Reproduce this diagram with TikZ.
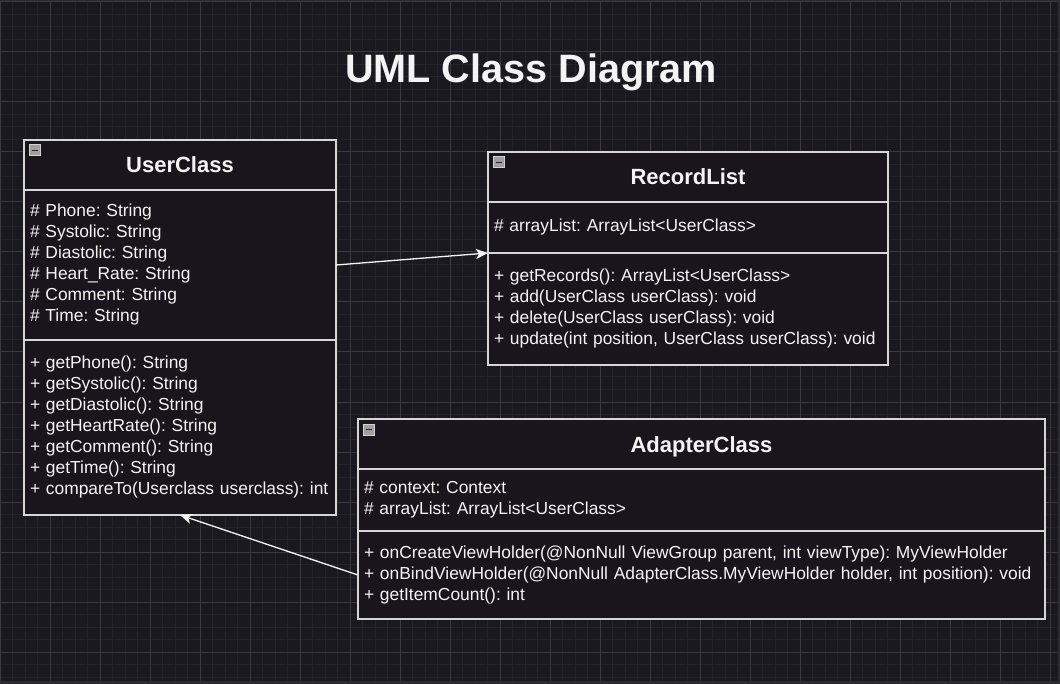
\documentclass[tikz,border=0pt]{standalone}
\usepackage{fontspec}
\setmainfont{Liberation Sans}
\usetikzlibrary{positioning, arrows.meta}
\definecolor{bgdark}{HTML}{1A1920}
\definecolor{bgedge}{HTML}{2B2A31}
\definecolor{gridminor}{HTML}{25232A}
\definecolor{gridmajor}{HTML}{3B393F}
\definecolor{boxfill}{HTML}{18151D}
\definecolor{boxline}{HTML}{D6D6D6}
\definecolor{inktext}{HTML}{F4F4F4}
\tikzset{
x=1pt, y=-1pt, % one unit is one pixel of the screenshot, y runs down
>={Stealth[length=12pt, width=10pt, inset=3pt]}, % arrow heads
finegrid/.style={gridminor, line width=1pt}, % small squares of the canvas
coarsegrid/.style={gridmajor, line width=1pt}, % every fourth line
classhead/.style={draw=boxline, fill=boxfill, line width=1.4pt, outer sep=0pt, text=inktext, font=\fontsize{22}{26}\selectfont\bfseries, minimum height=50pt, text height=16pt, text depth=0pt, anchor=north west}, % name row of a class
classpart/.style={draw=boxline, fill=boxfill, line width=1.4pt, outer sep=0pt, text=inktext, font=\fontsize{17.4}{21}\selectfont\frenchspacing, align=left, inner xsep=6pt, inner ysep=0pt}, % attributes and methods
minusbox/.style={draw=gray!35, fill=gray!75, line width=1pt}, % the collapse button
minusbar/.style={black!85, line width=1.6pt},
flow/.style={->, draw=inktext, fill=inktext, line width=1.3pt}, % connectors
}
\begin{document}
\begin{tikzpicture}
\useasboundingbox (0,0) rectangle (1060,684);
\fill[bgedge] (0,0) rectangle (1060,684);
\fill[bgdark] (0,2) rectangle (1058,681);
\foreach \gx in {0,12.5,...,1050} \draw[finegrid] (\gx,2) -- (\gx,681);
\foreach \gy in {2,14.5,...,681} \draw[finegrid] (0,\gy) -- (1058,\gy);
\foreach \gx in {0,50,...,1050} \draw[coarsegrid] (\gx,2) -- (\gx,681);
\foreach \gy in {2,52,...,652} \draw[coarsegrid] (0,\gy) -- (1058,\gy);

\node[text=inktext, font=\fontsize{39.6}{44}\selectfont\bfseries, anchor=base] (title) at (531,83) {UML Class Diagram};

% UserClass
\node[classhead, minimum width=312pt] (userhead) at (24,140) {UserClass};
\node[classpart, text width=300pt, minimum height=150pt, below=0pt of userhead] (userattr) {\# Phone: String\\\# Systolic: String\\\# Diastolic: String\\\# Heart\_Rate: String\\\# Comment: String\\\# Time: String};
\node[classpart, text width=300pt, minimum height=175pt, below=0pt of userattr] (usermeth) {+ getPhone(): String\\+ getSystolic(): String\\+ getDiastolic(): String\\+ getHeartRate(): String\\+ getComment(): String\\+ getTime(): String\\+ compareTo(Userclass userclass): int};

% RecordList
\node[classhead, minimum width=400pt] (rechead) at (488,152) {RecordList};
\node[classpart, text width=388pt, minimum height=51pt, below=0pt of rechead] (recattr) {\# arrayList: ArrayList<UserClass>};
\node[classpart, text width=388pt, minimum height=112pt, below=0pt of recattr] (recmeth) {+ getRecords(): ArrayList<UserClass>\\+ add(UserClass userClass): void\\+ delete(UserClass userClass): void\\+ update(int position, UserClass userClass): void};

% AdapterClass
\node[classhead, minimum width=687pt] (adapthead) at (358,419) {AdapterClass};
\node[classpart, text width=675pt, minimum height=62pt, below=0pt of adapthead] (adaptattr) {\# context: Context\\\# arrayList: ArrayList<UserClass>};
\node[classpart, text width=675pt, minimum height=88pt, below=0pt of adaptattr] (adaptmeth) {+ onCreateViewHolder(@NonNull ViewGroup parent, int viewType): MyViewHolder\\+ onBindViewHolder(@NonNull AdapterClass.MyViewHolder holder, int position): void\\+ getItemCount(): int};

\foreach \cls in {userhead, rechead, adapthead} {
  \draw[minusbox] ([shift={(5,5)}]\cls.north west) rectangle ++(11,11);
  \draw[minusbar] ([shift={(7.5,10.5)}]\cls.north west) -- ++(6,0);
}

\draw[flow] (userattr.east) -- (recmeth.north west);
\draw[flow] (adaptmeth.west) -- (usermeth.south);
\end{tikzpicture}
\end{document}
